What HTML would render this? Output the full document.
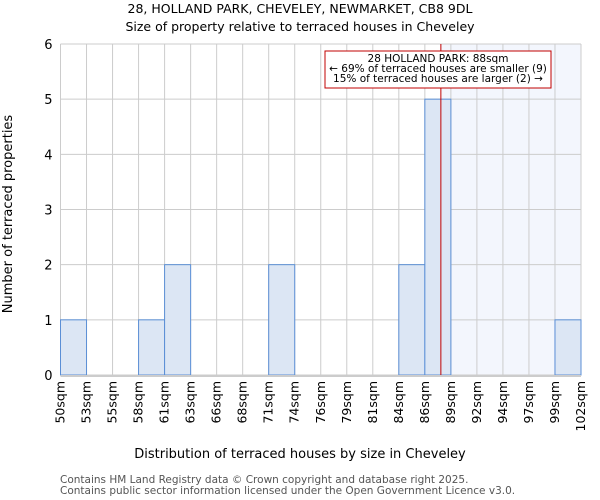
<!DOCTYPE html>
<html><head><meta charset="utf-8"><style>
body{margin:0;background:#fff;}
svg{display:block;font-family:"DejaVu Sans","Liberation Sans",sans-serif;}
</style></head><body>
<svg id="c" width="600" height="500"></svg>
<script>
const edgeLabels=["50sqm","53sqm","55sqm","58sqm","61sqm","63sqm","66sqm","68sqm","71sqm","74sqm","76sqm","79sqm","81sqm","84sqm","86sqm","89sqm","92sqm","94sqm","97sqm","99sqm","102sqm"];
const counts=[1,0,0,1,2,0,0,0,2,0,0,0,0,2,5,0,0,0,0,1];
const yTicks=[0,1,2,3,4,5,6];
const binStart=50, binWidth=2.6, subjectSize=88;
const X0=60.5,X1=581,Y0=375,Y1=44,YMAX=6;
const nb=counts.length;
const xb=i=>X0+(X1-X0)*i/nb;
const xv=v=>X0+(X1-X0)*(v-binStart)/(binWidth*nb);
const y=v=>Y0-(Y0-Y1)*v/YMAX;
const svg=document.getElementById('c');
const NS="http://www.w3.org/2000/svg";
function mk(t,a,txt){const e=document.createElementNS(NS,t);for(const k in a)e.setAttribute(k,a[k]);if(txt!=null)e.textContent=txt;svg.appendChild(e);return e;}
let e;
e=mk('rect',{x:xv(subjectSize),y:Y1,width:X1-xv(subjectSize),height:Y0-Y1,fill:'#f3f6fd'});


for(let i=0;i<=nb;i++){e=mk('line',{x1:xb(i),x2:xb(i),y1:Y1,y2:Y0,stroke:'#cccccc','stroke-width':1});

}
yTicks.forEach(t=>{e=mk('line',{x1:X0,x2:X1,y1:y(t),y2:y(t),stroke:'#cccccc','stroke-width':1});


e=mk('text',{x:X0-8,y:y(t)+5,'text-anchor':'end','font-size':13,fill:'#000'},t);

});
counts.forEach((c,i)=>{if(!c)return;e=mk('rect',{x:xb(i),y:y(c),width:xb(i+1)-xb(i),height:Y0-y(c),fill:'#dce6f4',stroke:'#5b8fd6','stroke-width':1});

});
e=mk('line',{x1:X0,x2:X1,y1:Y0+1,y2:Y0+1,stroke:'#cccccc','stroke-width':2});


e=mk('line',{x1:xv(subjectSize),x2:xv(subjectSize),y1:Y1,y2:Y0,stroke:'#c00000','stroke-width':1});


edgeLabels.forEach((l,i)=>{const xx=xb(i)+4;e=mk('text',{x:0,y:0,transform:`translate(${xx},381) rotate(-90)`,'text-anchor':'end','font-size':12.5,fill:'#000'},l);

});
e=mk('rect',{x:325,y:51,width:226,height:37,fill:'#fff',stroke:'#c00000','stroke-width':1});


[["28 HOLLAND PARK: 88sqm",62],["← 69% of terraced houses are smaller (9)",72],["15% of terraced houses are larger (2) →",82]].forEach(([t,yy])=>{e=mk('text',{x:438,y:yy,'text-anchor':'middle','font-size':10.5,fill:'#000'},t);

});
e=mk('text',{x:300,y:13,'text-anchor':'middle','font-size':12.5},'28, HOLLAND PARK, CHEVELEY, NEWMARKET, CB8 9DL');


e=mk('text',{x:300,y:31,'text-anchor':'middle','font-size':12.5},'Size of property relative to terraced houses in Cheveley');


e=mk('text',{x:300,y:458,'text-anchor':'middle','font-size':13},'Distribution of terraced houses by size in Cheveley');


e=mk('text',{x:0,y:0,transform:'translate(12,214) rotate(-90)','text-anchor':'middle','font-size':13},'Number of terraced properties');


e=mk('text',{x:60,y:483,'font-size':10.5,fill:'#555'},'Contains HM Land Registry data © Crown copyright and database right 2025.');


e=mk('text',{x:60,y:494,'font-size':10.5,fill:'#555'},'Contains public sector information licensed under the Open Government Licence v3.0.');


</script>
</body></html>
